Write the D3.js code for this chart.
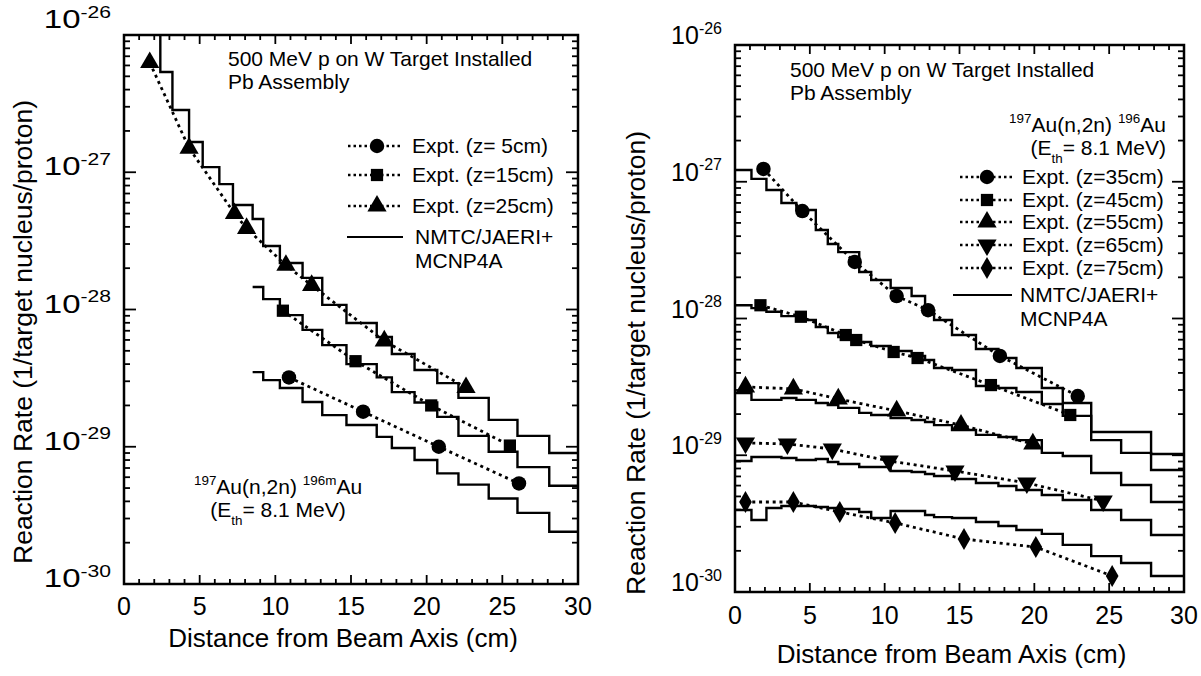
<!DOCTYPE html>
<html>
<head>
<meta charset="utf-8">
<script src="https://cdnjs.cloudflare.com/ajax/libs/d3/7.8.5/d3.min.js"></script>
<style>
  body { margin: 0; background: #fff; }
  svg text { font-family: "Liberation Sans", Arial, Helvetica, sans-serif; fill: #000; }
</style>
</head>
<body>
<svg id="chart" width="1201" height="676"></svg>
<script>
// ---- values ----
var xTickValues = [0, 5, 10, 15, 20, 25, 30];
var yDecades = [-26, -27, -28, -29, -30];

// left panel: 197Au(n,2n)196mAu, calculated step histograms
var leftEdgesZ25 = [1.4, 2.4, 3.2, 4.3, 5.2, 6.3, 7.2, 8.5, 9.2, 10.3, 11.8, 13.1, 14.7, 16.7, 17.7, 19.2, 20.7, 22.1, 24.1, 26.0, 28.1, 30];
var leftEdgesNear = [8.5, 9.2, 10.3, 11.8, 13.1, 14.7, 16.7, 17.7, 19.2, 20.7, 22.1, 24.1, 26.0, 28.1, 30];
var leftCalcZ25 = [1.3e-26, 5.37e-27, 2.84e-27, 1.66e-27, 1.09e-27, 8.2e-28, 5.77e-28, 4.56e-28, 2.9e-28, 2.18e-28, 1.7e-28,
                   1.08e-28, 7.97e-29, 6.3e-29, 4.74e-29, 3.62e-29, 2.91e-29, 2.27e-29, 1.57e-29, 1.2e-29, 9.0e-30];
var leftCalcZ15 = [1.46e-28, 1.19e-28, 9.1e-29, 7.1e-29, 5.5e-29, 4.0e-29, 3.2e-29, 2.5e-29, 2.1e-29, 1.65e-29, 1.2e-29, 9.2e-30, 7.1e-30, 5.2e-30];
var leftCalcZ5 = [3.5e-29, 3.06e-29, 2.68e-29, 2.12e-29, 1.7e-29, 1.44e-29, 1.18e-29, 9.8e-30, 8.0e-30, 6.4e-30, 5.3e-30, 4.2e-30, 3.3e-30, 2.4e-30];

// left panel measurements [distance cm, rate]
var leftExptZ5 = [[10.9, 3.2e-29], [15.8, 1.8e-29], [20.8, 1.0e-29], [26.1, 5.4e-30]];
var leftExptZ15 = [[10.5, 9.8e-29], [15.3, 4.2e-29], [20.3, 2.0e-29], [25.5, 1.02e-29]];
var leftExptZ25 = [[1.7, 6.3e-27], [4.3, 1.5e-27], [7.3, 5.0e-28], [8.1, 3.9e-28], [10.7, 2.1e-28], [12.4, 1.5e-28], [17.2, 5.9e-29], [22.6, 2.7e-29]];
var leftLegendLabels = ["Expt. (z= 5cm)", "Expt. (z=15cm)", "Expt. (z=25cm)"];

// right panel: 197Au(n,2n)196Au
var rightEdges = [0, 1.1, 2.1, 3.1, 4.1, 5.4, 6.2, 6.9, 8.3, 9.1, 10.4, 11.8, 12.7, 13.3, 14.5, 16.1, 17.6, 18.8, 20.5, 21.9, 23.8, 25.8, 27.8, 30];
var rightCalcZ35 = [1.22e-27, 1.05e-27, 8.7e-28, 6.99e-28, 6.22e-28, 4.44e-28, 3.51e-28, 3.06e-28, 2.19e-28, 1.91e-28, 1.67e-28, 1.46e-28,
                    1.15e-28, 9.75e-29, 7.57e-29, 5.98e-29, 5.14e-29, 4.35e-29, 3.1e-29, 2.41e-29, 1.48e-29, 1.48e-29, 1.02e-29];
var rightCalcZ45 = [1.25e-28, 1.19e-28, 1.12e-28, 1.04e-28, 9.75e-29, 8.66e-29, 7.83e-29, 7.32e-29, 6.73e-29, 6.29e-29, 5.79e-29, 5.32e-29,
                    4.97e-29, 4.35e-29, 4.2e-29, 3.21e-29, 3.1e-29, 2.9e-29, 2.37e-29, 1.94e-29, 1.29e-29, 1.04e-29, 7.8e-30];
var rightCalcZ55 = [2.85e-29, 2.54e-29, 2.54e-29, 2.62e-29, 2.54e-29, 2.41e-29, 2.33e-29, 2.22e-29, 2.04e-29, 1.97e-29, 1.87e-29, 1.81e-29,
                    1.75e-29, 1.66e-29, 1.53e-29, 1.41e-29, 1.36e-29, 1.29e-29, 1.04e-29, 9.87e-30, 7.41e-30, 6.06e-30, 4.55e-30];
var rightCalcZ65 = [9.08e-30, 9.71e-30, 9.71e-30, 9.55e-30, 9.23e-30, 9.39e-30, 8.93e-30, 8.63e-30, 8.2e-30, 8.2e-30, 7.67e-30, 7.54e-30,
                    7.29e-30, 7.05e-30, 6.7e-30, 6.27e-30, 5.96e-30, 5.57e-30, 5.12e-30, 4.71e-30, 3.98e-30, 3.36e-30, 2.61e-30];
var rightCalcZ75 = [3.98e-30, 3.36e-30, 4.11e-30, 4.25e-30, 4.25e-30, 4.18e-30, 4.11e-30, 4.05e-30, 3.85e-30, 3.48e-30, 3.91e-30, 3.91e-30,
                    3.66e-30, 3.53e-30, 3.48e-30, 3.25e-30, 3.04e-30, 2.84e-30, 2.66e-30, 2.21e-30, 1.83e-30, 1.63e-30, 1.31e-30];

var rightExptZ35 = [[1.9, 1.24e-27], [4.5, 6.1e-28], [8.0, 2.59e-28], [10.8, 1.46e-28], [12.9, 1.15e-28], [17.7, 5.32e-29], [22.9, 2.71e-29]];
var rightExptZ45 = [[1.7, 1.25e-28], [4.4, 1.03e-28], [7.4, 7.57e-29], [8.1, 6.96e-29], [10.6, 5.69e-29], [12.2, 5.14e-29], [17.1, 3.26e-29], [22.4, 1.97e-29]];
var rightExptZ55 = [[0.7, 3.16e-29], [3.9, 3.06e-29], [6.9, 2.58e-29], [10.8, 2.11e-29], [15.1, 1.66e-29], [19.9, 1.21e-29]];
var rightExptZ65 = [[0.7, 1.23e-29], [3.5, 1.21e-29], [6.5, 1.11e-29], [10.3, 9.08e-30], [14.7, 7.67e-30], [19.5, 6.27e-30], [24.6, 4.63e-30]];
var rightExptZ75 = [[0.7, 4.55e-30], [3.9, 4.55e-30], [7.0, 3.85e-30], [10.7, 3.2e-30], [15.3, 2.44e-30], [20.1, 2.13e-30], [25.2, 1.31e-30]];
var rightLegendLabels = ["Expt. (z=35cm)", "Expt. (z=45cm)", "Expt. (z=55cm)", "Expt. (z=65cm)", "Expt. (z=75cm)"];

var calcLabel = ["NMTC/JAERI+", "MCNP4A"];
var yTitle = "Reaction Rate (1/target nucleus/proton)";
var xTitle = "Distance from Beam Axis (cm)";
var setupText = ["500 MeV p on W Target Installed", "Pb Assembly"];

var svg = d3.select("#chart");

var symbols = {
  circle: {type: d3.symbolCircle, size: 165, rot: 0},
  square: {type: d3.symbolSquare, size: 150, rot: 0},
  triangle: {type: d3.symbolTriangle, size: 160, rot: 0},
  triangleDown: {type: d3.symbolTriangle, size: 160, rot: 180},
  diamond: {type: d3.symbolDiamond, size: 140, rot: 0}
};

// text with super/subscript parts
function richText(g, x, y, anchor, size, parts) {
  var t = g.append("text").attr("x", x).attr("y", y)
      .attr("text-anchor", anchor).attr("font-size", size);
  var shift = 0;
  parts.forEach(function(p) {
    var target = p.s === "sup" ? -size * 0.42 : (p.s === "sub" ? size * 0.38 : 0);
    t.append("tspan").attr("dy", target - shift)
      .attr("font-size", p.s ? size * 0.64 : size).text(p.t);
    shift = target;
  });
  return t;
}

function marker(g, name, cx, cy) {
  var s = symbols[name];
  g.append("path")
    .attr("d", d3.symbol().type(s.type).size(s.size)())
    .attr("transform", "translate(" + cx + "," + cy + ") rotate(" + s.rot + ")")
    .attr("fill", "#000");
}

function drawPanel(p) {
  var x = d3.scaleLinear().domain([0, 30]).range([p.left, p.right]);
  var y = d3.scaleLog().domain([1e-30, 1e-26]).range([p.bottom, p.top]);
  var g = svg.append("g");

  g.append("clipPath").attr("id", p.id + "-clip")
    .append("rect").attr("x", p.left).attr("y", p.top)
    .attr("width", p.right - p.left).attr("height", p.bottom - p.top);
  var plot = g.append("g").attr("clip-path", "url(#" + p.id + "-clip)");

  // calculated histograms
  var step = d3.line().x(function(d) { return x(d[0]); }).y(function(d) { return y(d[1]); })
      .curve(d3.curveStepAfter);
  p.calc.forEach(function(c) {
    var pts = c.values.map(function(v, i) { return [c.edges[i], v]; });
    pts.push([c.edges[c.edges.length - 1], c.values[c.values.length - 1]]);
    plot.append("path").attr("d", step(pts))
      .attr("fill", "none").attr("stroke", "#000").attr("stroke-width", 2.4);
  });

  // measured points with dotted lines
  var line = d3.line().x(function(d) { return x(d[0]); }).y(function(d) { return y(d[1]); });
  p.expt.forEach(function(e) {
    plot.append("path").attr("d", line(e.data))
      .attr("fill", "none").attr("stroke", "#000").attr("stroke-width", 2.8)
      .attr("stroke-dasharray", "3 3.8");
    e.data.forEach(function(d) { marker(plot, e.symbol, x(d[0]), y(d[1])); });
  });

  // frame
  g.append("rect").attr("x", p.left).attr("y", p.top)
    .attr("width", p.right - p.left).attr("height", p.bottom - p.top)
    .attr("fill", "none").attr("stroke", "#000").attr("stroke-width", 2.5);

  // x ticks (inward, bottom and top)
  var xt = d3.range(0, 31, 1);
  g.selectAll(".xtb").data(xt).join("line")
    .attr("x1", function(d) { return x(d); }).attr("x2", function(d) { return x(d); })
    .attr("y1", p.bottom).attr("y2", function(d) { return p.bottom - (d % 5 === 0 ? 9 : 5); })
    .attr("stroke", "#000").attr("stroke-width", 1.8);
  g.selectAll(".xtt").data(xt).join("line")
    .attr("x1", function(d) { return x(d); }).attr("x2", function(d) { return x(d); })
    .attr("y1", p.top).attr("y2", function(d) { return p.top + (d % 5 === 0 ? 9 : 5); })
    .attr("stroke", "#000").attr("stroke-width", 1.8);

  // y ticks (log, inward, left and right)
  var yt = [];
  [-30, -29, -28, -27].forEach(function(dec) {
    d3.range(1, 10).forEach(function(m) { yt.push({v: m * Math.pow(10, dec), major: m === 1}); });
  });
  [[p.left, 1], [p.right, -1]].forEach(function(side) {
    g.append("g").selectAll("line").data(yt).join("line")
      .attr("x1", side[0]).attr("x2", function(d) { return side[0] + side[1] * (d.major ? 12 : 6); })
      .attr("y1", function(d) { return y(d.v); }).attr("y2", function(d) { return y(d.v); })
      .attr("stroke", "#000").attr("stroke-width", 1.8);
  });

  // tick labels
  xTickValues.forEach(function(v) {
    g.append("text").attr("x", x(v)).attr("y", p.xLabY).attr("text-anchor", "middle")
      .attr("font-size", 25).text(v);
  });
  yDecades.forEach(function(dec, i) {
    var dy = i === 0 ? p.topLabDy : p.labDy;
    var lab = g.append("g")
      .attr("transform", "translate(" + (p.left - 13) + "," + (y(Math.pow(10, dec)) + dy) + ") scale(" + p.labSx + ",1)");
    richText(lab, 0, 0, "end", 25, [{t: "10"}, {t: String(dec), s: "sup"}]);
  });

  // axis titles
  g.append("text").attr("x", (p.left + p.right) / 2 - 8).attr("y", p.xTitleY)
    .attr("text-anchor", "middle").attr("font-size", 26).text(xTitle);
  g.append("text").attr("transform", "translate(" + p.yTitleX + "," + p.yTitleY + ") rotate(-90)")
    .attr("text-anchor", "middle").attr("font-size", 26.5).text(yTitle);

  // setup text
  g.append("text").attr("x", p.setupX).attr("y", p.setupY).attr("font-size", 21).text(setupText[0]);
  g.append("text").attr("x", p.setupX).attr("y", p.setupY + 23).attr("font-size", 21).text(setupText[1]);

  // reaction annotation
  richText(g, p.reacX, p.reacY, p.reacAnchor, 21,
    [{t: "197", s: "sup"}, {t: "Au(n,2n) "}, {t: p.product, s: "sup"}, {t: "Au"}]);
  richText(g, p.reacX, p.reacY + 23, p.reacAnchor, 21,
    [{t: "(E"}, {t: "th", s: "sub"}, {t: "= 8.1 MeV)"}]);

  // legend
  var L = p.legend;
  p.expt.forEach(function(e, i) {
    var cy = L.rows[i];
    g.append("line").attr("x1", L.x0).attr("x2", L.x1).attr("y1", cy).attr("y2", cy)
      .attr("stroke", "#000").attr("stroke-width", 2.4).attr("stroke-dasharray", "2.5 3");
    marker(g, e.symbol, L.xm, cy);
    g.append("text").attr("x", L.tx).attr("y", cy + 7).attr("font-size", 21).text(e.label);
  });
  g.append("line").attr("x1", L.c0).attr("x2", L.x1).attr("y1", L.calcY).attr("y2", L.calcY)
    .attr("stroke", "#000").attr("stroke-width", 2.2);
  g.append("text").attr("x", L.ctx).attr("y", L.calcY + 7).attr("font-size", 21).text(calcLabel[0]);
  g.append("text").attr("x", L.ctx).attr("y", L.calcY + 31).attr("font-size", 21).text(calcLabel[1]);
}

drawPanel({
  id: "left", left: 124, right: 578, top: 35, bottom: 584,
  labDy: 3, topLabDy: -7, labSx: 1.32, xLabY: 615, xTitleY: 647, yTitleX: 32, yTitleY: 332,
  setupX: 228, setupY: 66,
  reacX: 278, reacY: 494, reacAnchor: "middle", product: "196m",
  calc: [
    {edges: leftEdgesZ25, values: leftCalcZ25},
    {edges: leftEdgesNear, values: leftCalcZ15},
    {edges: leftEdgesNear, values: leftCalcZ5}
  ],
  expt: [
    {data: leftExptZ5, symbol: "circle", label: leftLegendLabels[0]},
    {data: leftExptZ15, symbol: "square", label: leftLegendLabels[1]},
    {data: leftExptZ25, symbol: "triangle", label: leftLegendLabels[2]}
  ],
  legend: {x0: 348, x1: 403, xm: 377, tx: 412, rows: [146, 175, 206], c0: 347, calcY: 237, ctx: 415}
});

drawPanel({
  id: "right", left: 735, right: 1184, top: 45, bottom: 592,
  labDy: -1, topLabDy: -1, labSx: 1, xLabY: 624, xTitleY: 663, yTitleX: 645, yTitleY: 363,
  setupX: 790, setupY: 77,
  reacX: 1166, reacY: 132, reacAnchor: "end", product: "196",
  calc: [
    {edges: rightEdges, values: rightCalcZ35},
    {edges: rightEdges, values: rightCalcZ45},
    {edges: rightEdges, values: rightCalcZ55},
    {edges: rightEdges, values: rightCalcZ65},
    {edges: rightEdges, values: rightCalcZ75}
  ],
  expt: [
    {data: rightExptZ35, symbol: "circle", label: rightLegendLabels[0]},
    {data: rightExptZ45, symbol: "square", label: rightLegendLabels[1]},
    {data: rightExptZ55, symbol: "triangle", label: rightLegendLabels[2]},
    {data: rightExptZ65, symbol: "triangleDown", label: rightLegendLabels[3]},
    {data: rightExptZ75, symbol: "diamond", label: rightLegendLabels[4]}
  ],
  legend: {x0: 960, x1: 1012, xm: 987, tx: 1022, rows: [177, 200, 222, 245, 268], c0: 953, calcY: 295, ctx: 1020}
});
</script>
</body>
</html>
